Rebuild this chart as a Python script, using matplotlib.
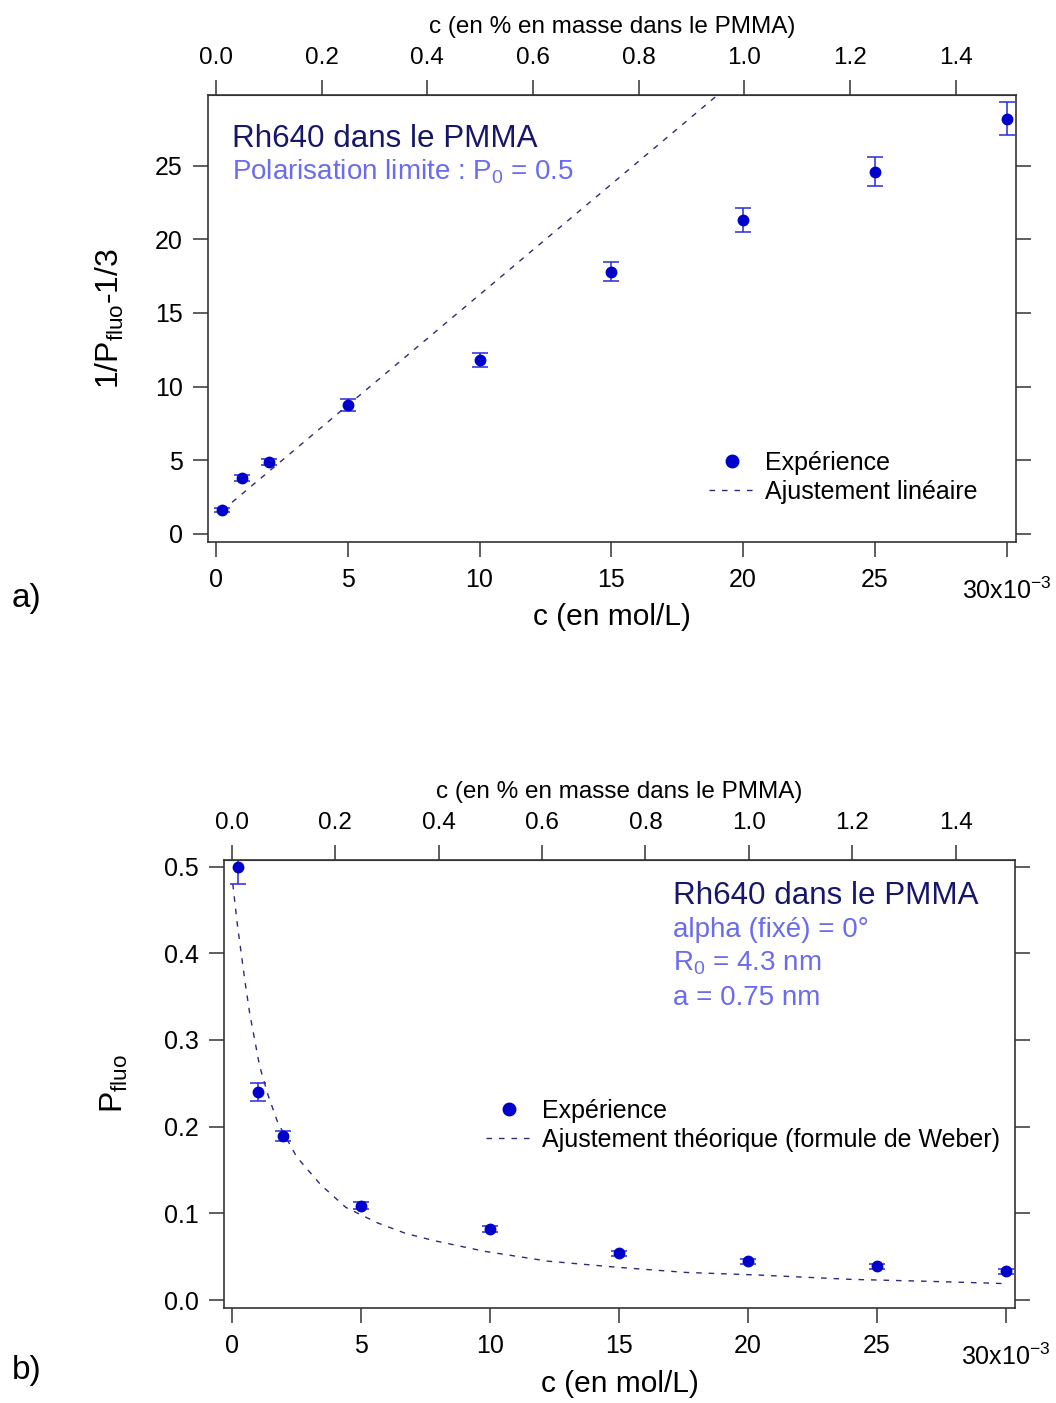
import matplotlib
matplotlib.use("Agg")
import matplotlib.pyplot as plt
from matplotlib.lines import Line2D
from matplotlib.transforms import ScaledTranslation

plt.rcParams['font.family'] = ['Liberation Sans', 'DejaVu Sans']
plt.rcParams['mathtext.fontset'] = 'custom'
plt.rcParams['mathtext.rm'] = 'Liberation Sans'
plt.rcParams['mathtext.it'] = 'Liberation Sans:italic'
plt.rcParams['mathtext.default'] = 'regular'

# ---------------- data ----------------
# concentration in units of 1e-3 mol/L
conc = [0.25, 1, 2, 5, 10, 15, 20, 25, 30]

# panel a: 1/P_fluo - 1/3
inv_p = [1.63, 3.8, 4.9, 8.75, 11.8, 17.8, 21.3, 24.6, 28.2]
inv_p_err = [0.15, 0.2, 0.2, 0.4, 0.48, 0.65, 0.8, 1.0, 1.12]
fit_a_x = [0.25, 19.3]
fit_a_y = [1.6, 30.2]

# panel b: P_fluo
p_fluo = [0.4995, 0.240, 0.189, 0.109, 0.082, 0.054, 0.045, 0.039, 0.0335]
p_fluo_err = [0.02, 0.01, 0.006, 0.004, 0.003, 0.003, 0.003, 0.003, 0.003]
fit_b_x = [0.04, 0.23, 0.39, 0.5, 0.7, 0.89, 1.08, 1.4, 1.78, 2.52, 3.45, 4.42,
           5.66, 6.74, 7.79, 9.77, 12.25, 14.92, 17.6, 20.4, 24.0, 26.7, 29.5, 30.0]
fit_b_y = [0.48, 0.43, 0.395, 0.37, 0.33, 0.30, 0.27, 0.237, 0.205, 0.165, 0.133,
           0.107, 0.089, 0.077, 0.069, 0.0565, 0.045, 0.038, 0.032, 0.029, 0.024,
           0.022, 0.0196, 0.019]

x_ticks = [0, 5, 10, 15, 20, 25, 30]
x_ticklabels = ['0', '5', '10', '15', '20', '25', '30x10$^{-3}$']
mass_ticks = [0.0, 0.2, 0.4, 0.6, 0.8, 1.0, 1.2, 1.4]
MASS_FACTOR = 20.04  # mmol/L per 1 % in mass

W, H = 1056, 1403
fig = plt.figure(figsize=(W / 100, H / 100), dpi=100)

def px_axes(l, t, r, b):
    return fig.add_axes([l / W, 1 - b / H, (r - l) / W, (b - t) / H])

FRAME = '#333333'
MARK = '#0000cc'
ERRC = '#2a2ad8'
FITC = '#2b2b78'
NAVY = '#17176a'
LIGHT = '#6b6bee'
TICKFS = 18
TL = 11

def style(ax, ylim, yticks, yfmt, xlab_y):
    ax.set_xlim(-0.3, 30.35)
    ax.set_ylim(*ylim)
    for s in ax.spines.values():
        s.set_color(FRAME)
        s.set_linewidth(1.2)
    ax.set_xticks(x_ticks)
    ax.set_xticklabels(x_ticklabels)
    ax.set_yticks(yticks)
    ax.set_yticklabels([yfmt(v) for v in yticks])
    ax.tick_params(axis='both', direction='out', length=TL, width=1.1,
                   color=FRAME, labelsize=TICKFS, pad=7, right=True,
                   labelright=False)
    ax.tick_params(axis='x', pad=8)
    last = ax.xaxis.get_major_ticks()[-1].label1
    last.set_transform(last.get_transform() +
                       ScaledTranslation(0, -9 / 100, fig.dpi_scale_trans))
    sec = ax.secondary_xaxis('top', functions=(lambda x: x / MASS_FACTOR,
                                                lambda p: p * MASS_FACTOR))
    sec.set_xticks(mass_ticks)
    sec.set_xticklabels(['%.1f' % v for v in mass_ticks])
    sec.tick_params(direction='out', length=TL, width=1.1, color=FRAME,
                    labelsize=TICKFS - 0.5, pad=8)
    sec.spines['top'].set_color(FRAME)
    sec.set_xlabel('c (en % en masse dans le PMMA)', fontsize=17.5, labelpad=10)
    ax.set_xlabel('c (en mol/L)', fontsize=21.5)
    ax.xaxis.set_label_coords(0.5, xlab_y)
    return sec

# ---------------- panel a ----------------
ax1 = px_axes(208, 95, 1016, 542)
ax1.plot(fit_a_x, fit_a_y, linestyle=(0, (4, 5)), color=FITC, lw=1.0)
ax1.errorbar(conc, inv_p, yerr=inv_p_err, fmt='o', color=MARK, ecolor=ERRC,
             ms=7.5, elinewidth=1.1, capsize=6, capthick=1.1)
style(ax1, (-0.55, 29.8), [0, 5, 10, 15, 20, 25], lambda v: '%d' % v,
      (542 - 603) / 447)
ax1.set_ylabel('1/P$_{fluo}$-1/3', fontsize=23)
ax1.yaxis.set_label_coords(-0.1015, 0.5)

h1 = [Line2D([], [], marker='o', ls='none', color=MARK, ms=9),
      Line2D([], [], ls=(0, (4, 5)), color=FITC, lw=1.0)]
ax1.legend(h1, ['Expérience', 'Ajustement linéaire'], loc='lower left',
           bbox_to_anchor=((709 - 208) / 808, (542 - 504) / 447),
           frameon=False, fontsize=18, handlelength=1.8, handletextpad=0.45,
           labelspacing=0.2, borderaxespad=0, borderpad=0)

fig.text(232 / W, 1 - 139 / H, 'Rh640 dans le PMMA', fontsize=22.6, color=NAVY,
         va='center', ha='left')
fig.text(232 / W, 1 - 172 / H, 'Polarisation limite : P$_0$ = 0.5', fontsize=20,
         color=LIGHT, va='center', ha='left')

# ---------------- panel b ----------------
ax2 = px_axes(224, 860, 1015, 1308)
ax2.plot(fit_b_x, fit_b_y, linestyle=(0, (4, 5)), color=FITC, lw=1.0)
ax2.errorbar(conc, p_fluo, yerr=p_fluo_err, fmt='o', color=MARK, ecolor=ERRC,
             ms=7.5, elinewidth=1.1, capsize=6, capthick=1.1)
style(ax2, (-0.009, 0.5075), [0.0, 0.1, 0.2, 0.3, 0.4, 0.5], lambda v: '%.1f' % v,
      (1308 - 1370) / 448)
ax2.set_ylabel('P$_{fluo}$', fontsize=23)
ax2.yaxis.set_label_coords(-0.1185, 0.5)

h2 = [Line2D([], [], marker='o', ls='none', color=MARK, ms=9),
      Line2D([], [], ls=(0, (4, 5)), color=FITC, lw=1.0)]
ax2.legend(h2, ['Expérience', 'Ajustement théorique (formule de Weber)'],
           loc='lower left',
           bbox_to_anchor=((486 - 224) / 791, (1308 - 1152) / 448),
           frameon=False, fontsize=18, handlelength=1.8, handletextpad=0.45,
           labelspacing=0.2, borderaxespad=0, borderpad=0)

fig.text(673 / W, 1 - 896 / H, 'Rh640 dans le PMMA', fontsize=22.6, color=NAVY,
         va='center', ha='left')
fig.text(673 / W, 1 - 930 / H, 'alpha (fixé) = 0°', fontsize=20, color=LIGHT,
         va='center', ha='left')
fig.text(673 / W, 1 - 963 / H, 'R$_0$ = 4.3 nm', fontsize=20, color=LIGHT,
         va='center', ha='left')
fig.text(673 / W, 1 - 998 / H, 'a = 0.75 nm', fontsize=20, color=LIGHT,
         va='center', ha='left')

fig.text(12 / W, 1 - 598 / H, 'a)', fontsize=24, va='center', ha='left')
fig.text(12 / W, 1 - 1370 / H, 'b)', fontsize=24, va='center', ha='left')

fig.savefig('out.png', dpi=100)
